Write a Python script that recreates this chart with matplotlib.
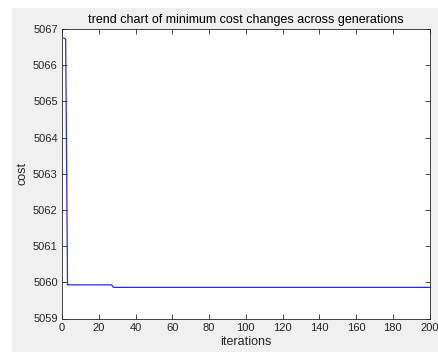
import matplotlib
matplotlib.use("Agg")
import matplotlib.pyplot as plt
from matplotlib.patches import Rectangle

# data: change points of the minimum-cost curve
iterations = [1, 2, 3, 27, 28, 200]
cost = [5066.75, 5066.72, 5059.93, 5059.93, 5059.86, 5059.86]
xticks = [0, 20, 40, 60, 80, 100, 120, 140, 160, 180, 200]
yticks = [5059, 5060, 5061, 5062, 5063, 5064, 5065, 5066, 5067]

plt.rcParams['font.family'] = ['Liberation Sans', 'DejaVu Sans']

W, H = 438, 352
fig = plt.figure(figsize=(W / 100, H / 100), dpi=100, facecolor='white')
fig.patches.append(Rectangle((12 / W, 0), 1 - 12 / W, (H - 8) / H,
                             transform=fig.transFigure, facecolor='#f0f0f0',
                             edgecolor='none', zorder=-10))

ax = fig.add_axes([62 / W, (H - 318.5) / H, (429.5 - 62) / W, (318.5 - 29) / H])
ax.set_facecolor('white')
ax.plot(iterations, cost, color='#2626ff', lw=0.9)

ax.set_xlim(0, 200)
ax.set_ylim(5059, 5067)
ax.set_xticks(xticks)
ax.set_yticks(yticks)
ax.set_yticklabels([str(v) for v in yticks])
ax.tick_params(direction='in', top=True, right=True, length=3.5, width=0.6,
               labelsize=8, colors='#262626', pad=3)
for s in ax.spines.values():
    s.set_color('#262626')
    s.set_linewidth(0.6)

ax.set_title('trend chart of minimum cost changes across generations',
             fontsize=9, color='#000000', pad=4)
ax.set_xlabel('iterations', fontsize=9, color='#262626', labelpad=2.5)
ax.set_ylabel('cost', fontsize=9, color='#262626', labelpad=3)

fig.savefig('out.png', dpi=100, facecolor=fig.get_facecolor())
